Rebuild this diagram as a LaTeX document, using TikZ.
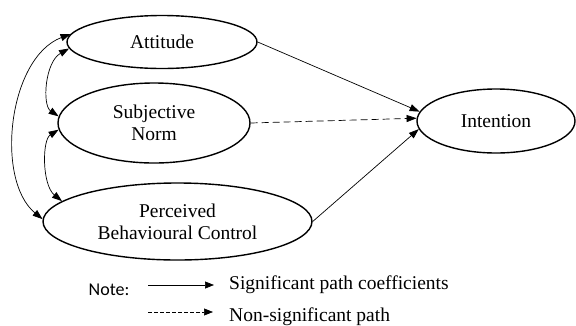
\documentclass[tikz,border=0pt]{standalone}
\usepackage{fontspec}
\setmainfont{Liberation Serif}
\newfontfamily\notefont{Carlito}
\usetikzlibrary{shapes.geometric,arrows.meta}
\begin{document}
\begin{tikzpicture}[x=1pt,y=-1pt,
  construct/.style={ellipse, draw, line width=1.4pt, inner sep=0pt, align=center,
    font=\fontsize{19.5}{22}\selectfont},
  tip/.style={Triangle[length=10pt,width=7pt]},
  patharrow/.style={line width=0.7pt, -{Triangle[length=10pt,width=7pt]}},
  biarrow/.style={line width=0.7pt, {Triangle[length=10pt,width=7pt]}-{Triangle[length=10pt,width=7pt]}},
  legendarrow/.style={line width=0.7pt, -{Triangle[length=9pt,width=7pt]}},
  legendtext/.style={anchor=base west, inner sep=0pt, font=\fontsize{19.5}{22}\selectfont},
]
\useasboundingbox (0,0) rectangle (576,325);

\node[construct, minimum width=190pt, minimum height=53pt] (att) at (162,42) {Attitude};
\node[construct, minimum width=192pt, minimum height=80pt] (sn) at (154,123) {Subjective\\Norm};
\node[construct, minimum width=269pt, minimum height=77pt] (pbc) at (177.5,221.5) {Perceived\\Behavioural Control};
\node[construct, minimum width=158pt, minimum height=64pt] (int) at (496,121) {Intention};

\draw[biarrow] (att.175) .. controls (8,58) and (-5,180) .. (pbc.179);
\draw[biarrow] (att.184) .. controls (45,62) and (42,105) .. (sn.176);
\draw[biarrow] (sn.184) .. controls (42,140) and (42,185) .. (pbc.170);

\draw[patharrow] (att.east) -- (int.173);
\draw[patharrow, dash pattern=on 7pt off 4pt] (sn.east) -- (int.178);
\draw[patharrow] (pbc.east) -- (int.186);

\node[anchor=base, inner sep=0pt, font=\notefont\fontsize{18}{20}\selectfont] (note) at (109,295) {Note:};
\coordinate (s1) at (148,285);
\coordinate (s2) at (214,285);
\draw[legendarrow] (s1) -- (s2);
\node[legendtext] (sig) at (229,289) {Significant path coefficients};
\coordinate (d1) at (148,312);
\coordinate (d2) at (213,312);
\draw[legendarrow, line width=0.6pt, dash pattern=on 3.5pt off 2.5pt] (d1) -- (d2);
\node[legendtext] (nsig) at (229,321) {Non-significant path};
\end{tikzpicture}
\end{document}
